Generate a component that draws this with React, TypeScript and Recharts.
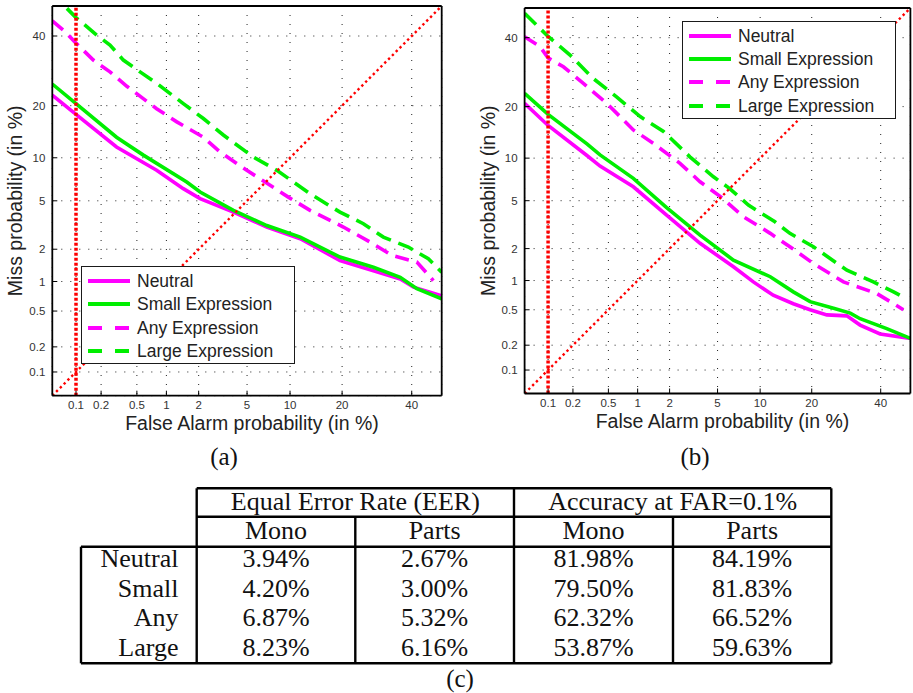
import React from 'react';
import { LineChart, Line, XAxis, YAxis, CartesianGrid, ReferenceLine, Legend } from 'recharts';

// ---------- axis ticks (percent) ----------
const TICK_VALUES = [0.1, 0.2, 0.5, 1, 2, 5, 10, 20, 40];
const TICK_LABELS = ['0.1', '0.2', '0.5', '1', '2', '5', '10', '20', '40'];
const AXIS_MIN_PCT = 0.05;
const AXIS_MAX_PCT = 50;
const FAR_OPERATING_POINT = 0.1;
const DIAGONAL_PCT = [0.05, 50];

const SERIES_NAMES = ['Neutral', 'Small Expression', 'Any Expression', 'Large Expression'];

// ---------- (a) Mono: false alarm % / miss % ----------
const MONO_NEUTRAL_FAR = [0.05, 0.1, 0.3, 0.8, 1.45, 2.06, 3.92, 6.97, 11.6, 19.5, 28.2, 36.3, 40.6, 50];
const MONO_NEUTRAL_MISS = [22.6, 18.0, 11.7, 8.27, 6.15, 5.19, 4.09, 3.1, 2.47, 1.58, 1.27, 1.06, 0.88, 0.72];
const MONO_SMALL_FAR = [0.05, 0.1, 0.3, 0.585, 1.56, 2.06, 3.92, 6.97, 11.6, 19.5, 28.2, 36.3, 41.7, 50];
const MONO_SMALL_MISS = [25.5, 20.5, 13.4, 10.4, 6.86, 5.81, 4.22, 3.19, 2.55, 1.7, 1.37, 1.1, 0.85, 0.67];
const MONO_ANY_FAR = [0.05, 0.073, 0.1, 0.162, 0.253, 0.39, 0.8, 1.26, 2.2, 3.05, 4.55, 6.78, 9.75, 13.3, 20.3, 27.3, 33.7, 41.7, 47.2];
const MONO_ANY_MISS = [45.0, 41.4, 37.7, 32.4, 28.9, 24.9, 19.3, 16.4, 13.4, 10.9, 8.7, 6.86, 5.33, 4.22, 3.1, 2.31, 1.76, 1.53, 1.02];
const MONO_LARGE_FAR = [0.077, 0.1, 0.178, 0.253, 0.357, 0.54, 0.8, 1.45, 2.2, 3.25, 5.58, 8.23, 13.3, 19.5, 25.4, 31.1, 38.9, 45.5, 50];
const MONO_LARGE_MISS = [49.2, 46.1, 40.3, 37.1, 32.4, 28.9, 25.7, 20.5, 17.1, 13.8, 10.1, 8.23, 5.65, 4.09, 3.3, 2.55, 2.09, 1.64, 1.23];

// ---------- (b) Parts: false alarm % / miss % ----------
const PARTS_NEUTRAL_FAR = [0.05, 0.1, 0.29, 0.406, 0.906, 1.88, 3.64, 6.56, 9.02, 12.1, 15.9, 19.6, 23.8, 29.4, 33.4, 39.8, 50];
const PARTS_NEUTRAL_MISS = [20.8, 15.8, 10.4, 8.86, 6.35, 3.85, 2.23, 1.36, 0.97, 0.71, 0.58, 0.5, 0.44, 0.43, 0.34, 0.27, 0.24];
const PARTS_SMALL_FAR = [0.05, 0.1, 0.29, 0.406, 0.906, 1.88, 3.64, 6.56, 11.6, 15.9, 19.6, 25.6, 30.4, 33.4, 42.0, 50];
const PARTS_SMALL_MISS = [23.3, 18.2, 12.3, 10.5, 7.3, 4.42, 2.63, 1.57, 1.09, 0.77, 0.61, 0.52, 0.46, 0.4, 0.31, 0.24];
const PARTS_ANY_FAR = [0.05, 0.079, 0.1, 0.154, 0.264, 0.48, 0.906, 1.42, 2.47, 3.64, 5.32, 7.72, 11.6, 15.2, 20.4, 28.4, 38.7, 44.3, 47.6];
const PARTS_ANY_MISS = [40.3, 37.1, 33.5, 30.8, 26.0, 20.8, 14.9, 12.4, 9.24, 6.9, 5.32, 3.74, 2.72, 2.08, 1.46, 0.97, 0.74, 0.58, 0.5];
const PARTS_LARGE_FAR = [0.05, 0.079, 0.1, 0.185, 0.34, 0.61, 1.06, 1.76, 3.0, 4.65, 6.16, 8.35, 12.4, 15.2, 20.4, 29.4, 37.6, 44.3, 47.6];
const PARTS_LARGE_MISS = [48.2, 43.1, 40.4, 34.4, 27.4, 22.4, 17.7, 14.6, 10.2, 7.48, 6.16, 4.63, 3.4, 2.72, 2.08, 1.26, 0.97, 0.77, 0.68];

// ---------- (c) table ----------
const TABLE_GROUPS = ['Equal Error Rate (EER)', 'Accuracy at FAR=0.1%'];
const TABLE_SUBCOLS = ['Mono', 'Parts', 'Mono', 'Parts'];
const TABLE_ROWS = ['Neutral', 'Small', 'Any', 'Large'];
const EER_MONO = [3.94, 4.2, 6.87, 8.23];
const EER_PARTS = [2.67, 3.0, 5.32, 6.16];
const ACC_MONO = [81.98, 79.5, 62.32, 53.87];
const ACC_PARTS = [84.19, 81.83, 66.52, 59.63];

// ---------- probit (inverse normal CDF) ----------
function probit(p: number): number {
  const a = [-3.969683028665376e1, 2.209460984245205e2, -2.759285104469687e2, 1.38357751867269e2, -3.066479806614716e1, 2.506628277459239];
  const b = [-5.447609879822406e1, 1.615858368580409e2, -1.556989798598866e2, 6.680131188771972e1, -1.328068155288572e1];
  const c = [-7.784894002430293e-3, -3.223964580411365e-1, -2.400758277161838, -2.549732539343734, 4.374664141464968, 2.938163982698783];
  const d = [7.784695709041462e-3, 3.224671290700398e-1, 2.445134137142996, 3.754408661907416];
  const pl = 0.02425;
  if (p < pl) {
    const q = Math.sqrt(-2 * Math.log(p));
    return (((((c[0] * q + c[1]) * q + c[2]) * q + c[3]) * q + c[4]) * q + c[5]) / ((((d[0] * q + d[1]) * q + d[2]) * q + d[3]) * q + 1);
  }
  if (p <= 1 - pl) {
    const q = p - 0.5;
    const r = q * q;
    return ((((((a[0] * r + a[1]) * r + a[2]) * r + a[3]) * r + a[4]) * r + a[5]) * q) / (((((b[0] * r + b[1]) * r + b[2]) * r + b[3]) * r + b[4]) * r + 1);
  }
  const q = Math.sqrt(-2 * Math.log(1 - p));
  return -(((((c[0] * q + c[1]) * q + c[2]) * q + c[3]) * q + c[4]) * q + c[5]) / ((((d[0] * q + d[1]) * q + d[2]) * q + d[3]) * q + 1);
}
const pp = (pct: number) => probit(pct / 100);
const toPoints = (far: number[], miss: number[]) => far.map((f, i) => ({ x: pp(f), y: pp(miss[i]) }));

const SERIES_STYLE = [
  { color: '#ff00ff', dash: undefined as string | undefined, legendDash: undefined as string | undefined },
  { color: '#00ee00', dash: undefined, legendDash: undefined },
  { color: '#ff00ff', dash: '14 8', legendDash: '14 13' },
  { color: '#00ee00', dash: '16 8', legendDash: '14 13' },
];

const DOMAIN: [number, number] = [pp(AXIS_MIN_PCT), pp(AXIS_MAX_PCT)];
const TICKS = TICK_VALUES.map(pp);
const tickFmt = (v: number) => {
  const i = TICKS.findIndex((t) => Math.abs(t - v) < 1e-9);
  return i >= 0 ? TICK_LABELS[i] : '';
};
const DIAG = DIAGONAL_PCT.map((v) => ({ x: pp(v), y: pp(v) }));

const SANS = '"Liberation Sans", Arial, Helvetica, sans-serif';
const SERIF = '"Liberation Serif", "Times New Roman", serif';

function LegendBox() {
  return (
    <div
      style={{
        width: 214,
        height: 98,
        boxSizing: 'border-box',
        border: '1.5px solid #1a1a1a',
        background: '#fff',
        position: 'relative',
        fontFamily: SANS,
      }}
    >
      {SERIES_NAMES.map((n, i) => (
        <div key={n} style={{ position: 'absolute', left: 0, top: 14 + 23.4 * i - 12, height: 24, display: 'flex', alignItems: 'center' }}>
          <svg width={55} height={24} style={{ display: 'block' }}>
            <line x1={6} x2={48} y1={12} y2={12} stroke={SERIES_STYLE[i].color} strokeWidth={4} strokeDasharray={SERIES_STYLE[i].legendDash} />
          </svg>
          <span style={{ fontSize: 17.5, color: '#222', whiteSpace: 'nowrap', lineHeight: '24px' }}>{n}</span>
        </div>
      ))}
    </div>
  );
}

const XTitle = (props: any) => {
  const vb = props.viewBox;
  return (
    <text x={vb.x + vb.width / 2 + 5} y={vb.y + 34} textAnchor="middle" fontSize={19.5} fill="#222" fontFamily={SANS}>
      False Alarm probability (in %)
    </text>
  );
};
const YTitle = (props: any) => {
  const vb = props.viewBox;
  const cx = vb.x + vb.width - 37;
  const cy = vb.y + vb.height / 2;
  return (
    <text x={cx} y={cy} transform={`rotate(-90, ${cx}, ${cy})`} textAnchor="middle" dominantBaseline="central" fontSize={19.5} fill="#222" fontFamily={SANS}>
      Miss probability (in %)
    </text>
  );
};

interface DetProps {
  lines: { x: number; y: number }[][];
  width: number;
  height: number;
  margin: { top: number; right: number; bottom: number; left: number };
  legendLeft: number;
  legendTop: number;
}

function DetChart({ lines, width, height, margin, legendLeft, legendTop }: DetProps) {
  const axisLine = { stroke: '#000', strokeWidth: 1.8 };
  const tickLine = { stroke: '#000', strokeWidth: 1 };
  return (
    <LineChart width={width} height={height} margin={margin} style={{ fontFamily: SANS }}>
      <CartesianGrid stroke="#222" strokeDasharray="1 8" strokeWidth={1} />
      <XAxis
        type="number"
        dataKey="x"
        domain={DOMAIN}
        ticks={TICKS}
        allowDataOverflow
        interval={0}
        height={30}
        tickSize={-5}
        tickMargin={10}
        tickFormatter={tickFmt}
        tick={{ fontSize: 11.5, fill: '#333' }}
        axisLine={axisLine}
        tickLine={tickLine}
        label={XTitle}
      />
      <XAxis
        xAxisId="top"
        orientation="top"
        type="number"
        dataKey="x"
        domain={DOMAIN}
        ticks={TICKS}
        allowDataOverflow
        interval={0}
        height={1}
        tickSize={-5}
        tick={false}
        axisLine={axisLine}
        tickLine={tickLine}
      />
      <YAxis
        type="number"
        domain={DOMAIN}
        ticks={TICKS}
        allowDataOverflow
        interval={0}
        width={40}
        tickSize={-5}
        tickMargin={12}
        tickFormatter={tickFmt}
        tick={{ fontSize: 11.5, fill: '#333' }}
        axisLine={axisLine}
        tickLine={tickLine}
        label={YTitle}
      />
      <YAxis
        yAxisId="right"
        orientation="right"
        type="number"
        domain={DOMAIN}
        ticks={TICKS}
        allowDataOverflow
        interval={0}
        width={1}
        tickSize={-5}
        tick={false}
        axisLine={axisLine}
        tickLine={tickLine}
      />
      {lines.map((pts, i) => (
        <Line
          key={SERIES_NAMES[i]}
          name={SERIES_NAMES[i]}
          data={pts}
          dataKey="y"
          type="linear"
          stroke={SERIES_STYLE[i].color}
          strokeWidth={3.6}
          strokeDasharray={SERIES_STYLE[i].dash}
          dot={false}
          activeDot={false}
          isAnimationActive={false}
        />
      ))}
      <Line
        data={DIAG}
        dataKey="y"
        type="linear"
        stroke="#ff0000"
        strokeWidth={2.4}
        strokeDasharray="2.4 3"
        dot={false}
        activeDot={false}
        legendType="none"
        isAnimationActive={false}
      />
      <ReferenceLine x={pp(FAR_OPERATING_POINT)} stroke="#ff0000" strokeWidth={3.5} strokeDasharray="3 2" ifOverflow="hidden" />
      <Legend
        layout="vertical"
        verticalAlign="middle"
        align="center"
        content={() => <LegendBox />}
        wrapperStyle={{ left: legendLeft, top: legendTop, width: 214, height: 98 }}
      />
    </LineChart>
  );
}

const MONO_LINES = [
  toPoints(MONO_NEUTRAL_FAR, MONO_NEUTRAL_MISS),
  toPoints(MONO_SMALL_FAR, MONO_SMALL_MISS),
  toPoints(MONO_ANY_FAR, MONO_ANY_MISS),
  toPoints(MONO_LARGE_FAR, MONO_LARGE_MISS),
];
const PARTS_LINES = [
  toPoints(PARTS_NEUTRAL_FAR, PARTS_NEUTRAL_MISS),
  toPoints(PARTS_SMALL_FAR, PARTS_SMALL_MISS),
  toPoints(PARTS_ANY_FAR, PARTS_ANY_MISS),
  toPoints(PARTS_LARGE_FAR, PARTS_LARGE_MISS),
];

// table layout
const COL_EDGES = [196.7, 355.3, 514, 673, 831.3];
const ROW_LABEL_LEFT = 81;
const T_TOP = 488.3;
const T_SUB = 516.7;
const T_BODY = 546.7;
const T_BOTTOM = 663.3;
const ROW_BASELINES = [567.3, 596.7, 626.3, 655.8];
const fmtPct = (v: number) => v.toFixed(2) + '%';

function ResultsTable() {
  const cols = [EER_MONO, EER_PARTS, ACC_MONO, ACC_PARTS];
  const lw = 2.4;
  const mid = (a: number, b: number) => (a + b) / 2;
  return (
    <svg width={913} height={693} style={{ position: 'absolute', left: 0, top: 0, pointerEvents: 'none' }} fontFamily={SERIF}>
      <text x={224} y={456} textAnchor="middle" dominantBaseline="central" fontSize={25} fill="#111">(a)</text>
      <text x={695} y={456} textAnchor="middle" dominantBaseline="central" fontSize={25} fill="#111">(b)</text>
      <line x1={COL_EDGES[0]} x2={COL_EDGES[4]} y1={T_TOP} y2={T_TOP} stroke="#000" strokeWidth={lw} />
      <line x1={COL_EDGES[0]} x2={COL_EDGES[4]} y1={T_SUB} y2={T_SUB} stroke="#000" strokeWidth={lw} />
      <line x1={ROW_LABEL_LEFT} x2={COL_EDGES[4]} y1={T_BODY} y2={T_BODY} stroke="#000" strokeWidth={lw} />
      <line x1={ROW_LABEL_LEFT} x2={COL_EDGES[4]} y1={T_BOTTOM} y2={T_BOTTOM} stroke="#000" strokeWidth={lw} />
      <line x1={ROW_LABEL_LEFT} x2={ROW_LABEL_LEFT} y1={T_BODY} y2={T_BOTTOM} stroke="#000" strokeWidth={lw} />
      {COL_EDGES.map((x, i) => (
        <line key={i} x1={x} x2={x} y1={i % 2 === 1 ? T_SUB : T_TOP} y2={T_BOTTOM} stroke="#000" strokeWidth={lw} />
      ))}
      {TABLE_GROUPS.map((g, i) => (
        <text key={g} x={mid(COL_EDGES[i * 2], COL_EDGES[i * 2 + 2])} y={510} textAnchor="middle" fontSize={26} fill="#111">{g}</text>
      ))}
      {TABLE_SUBCOLS.map((s, i) => (
        <text key={i} x={mid(COL_EDGES[i], COL_EDGES[i + 1])} y={538.5} textAnchor="middle" fontSize={26} fill="#111">{s}</text>
      ))}
      {TABLE_ROWS.map((r, ri) => (
        <g key={r}>
          <text x={178.5} y={ROW_BASELINES[ri]} textAnchor="end" fontSize={26} fill="#111">{r}</text>
          {cols.map((col, ci) => (
            <text key={ci} x={mid(COL_EDGES[ci], COL_EDGES[ci + 1])} y={ROW_BASELINES[ri]} textAnchor="middle" fontSize={26} fill="#111">
              {fmtPct(col[ri])}
            </text>
          ))}
        </g>
      ))}
      <text x={460} y={678.5} textAnchor="middle" dominantBaseline="central" fontSize={25} fill="#111">(c)</text>
    </svg>
  );
}

export default function App() {
  return (
    <div style={{ position: 'absolute', left: 0, top: 0, width: 913, height: 693, background: '#fff', overflow: 'hidden' }}>
      <div style={{ position: 'absolute', left: 0, top: 0 }}>
        <DetChart
          lines={MONO_LINES}
          width={460}
          height={440}
          margin={{ top: 5, right: 17.3, bottom: 14.3, left: 12.3 }}
          legendLeft={81}
          legendTop={266}
        />
      </div>
      <div style={{ position: 'absolute', left: 460, top: 0 }}>
        <DetChart
          lines={PARTS_LINES}
          width={453}
          height={440}
          margin={{ top: 7, right: 1.6, bottom: 16.5, left: 24.6 }}
          legendLeft={222}
          legendTop={20.7}
        />
      </div>
      <ResultsTable />
    </div>
  );
}
